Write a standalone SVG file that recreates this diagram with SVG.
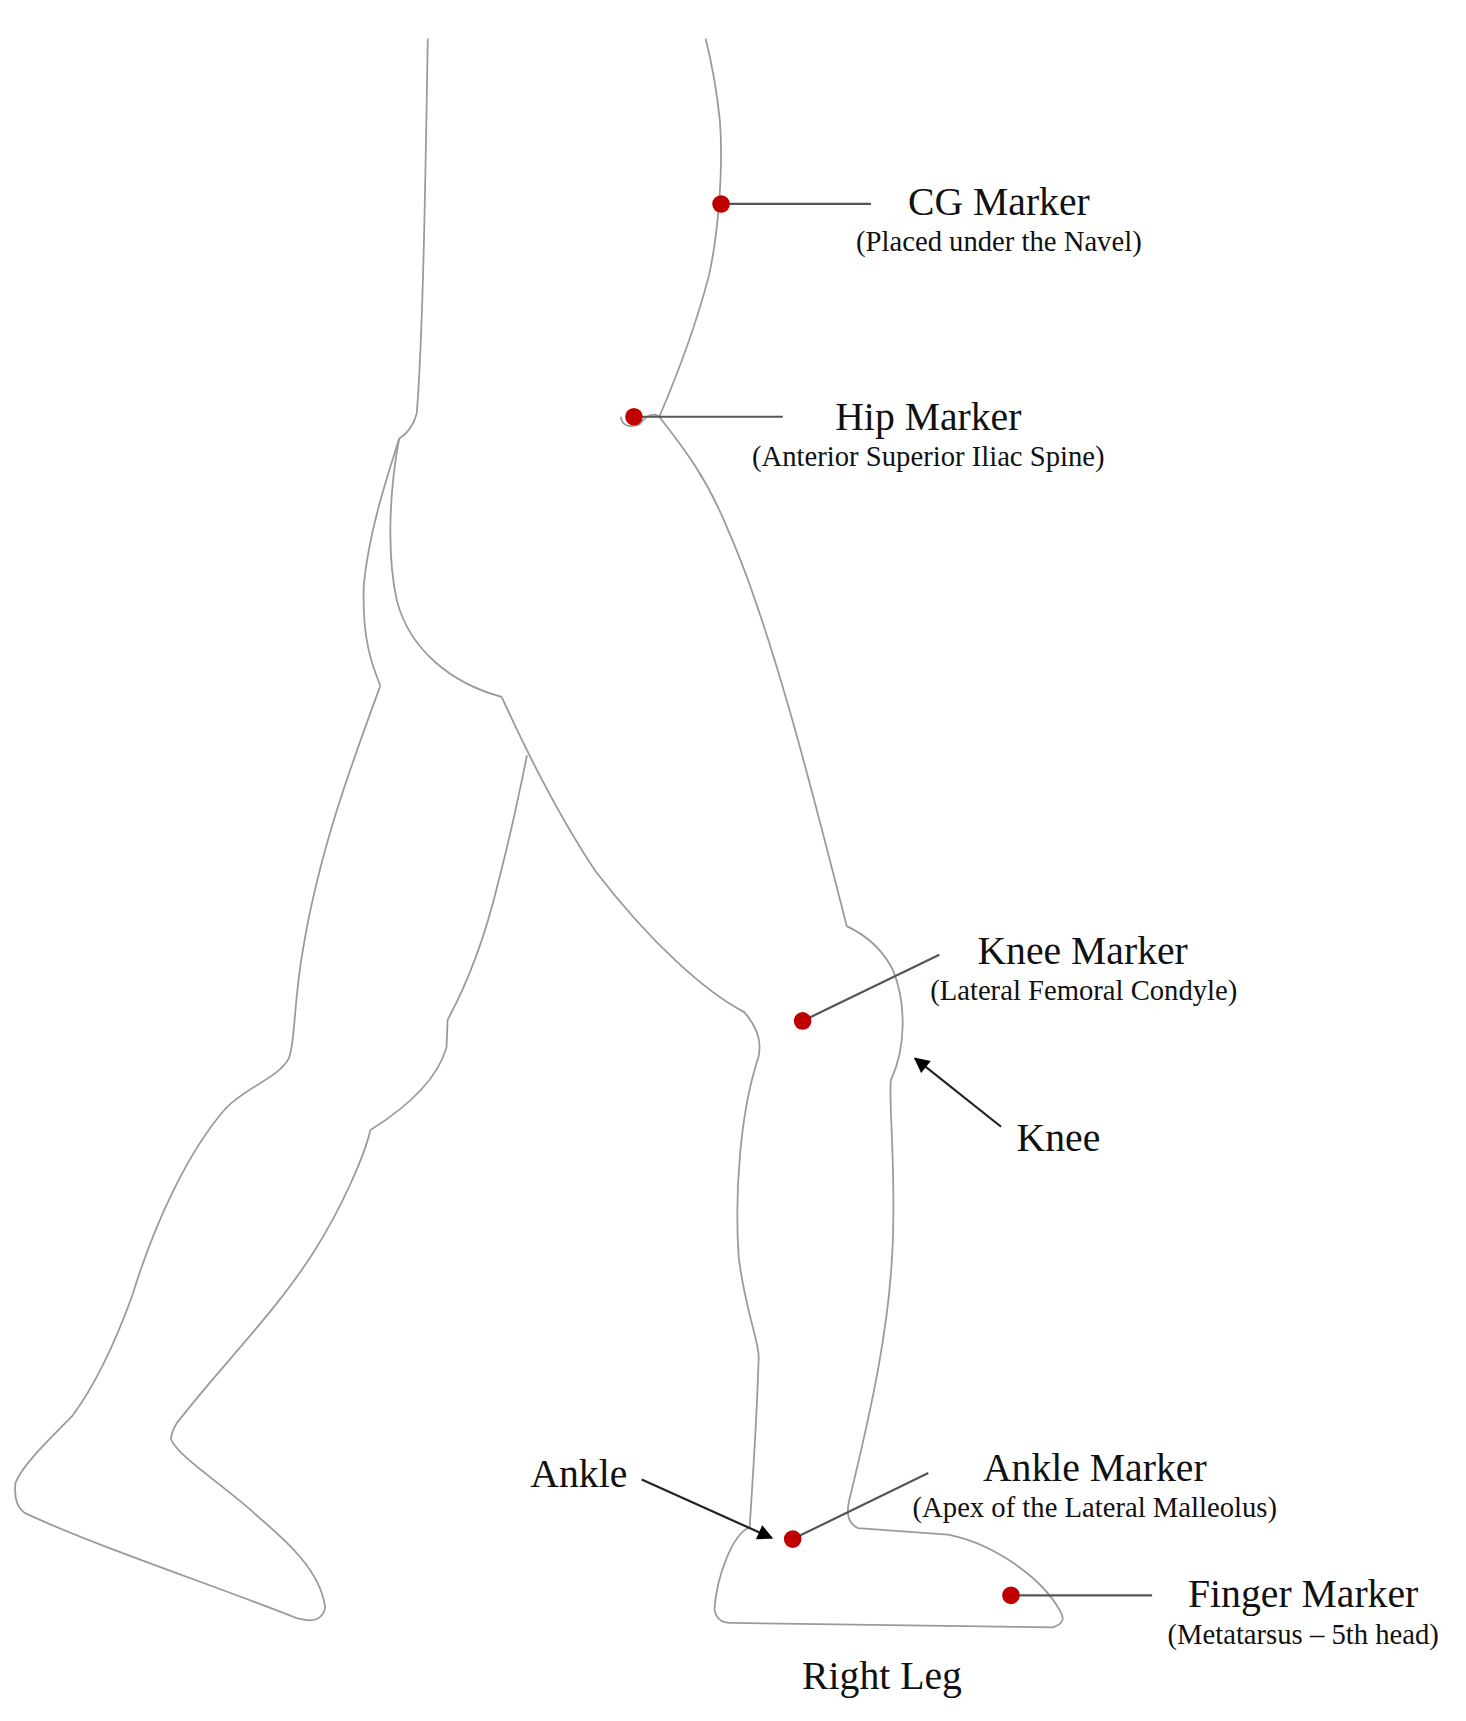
<svg xmlns="http://www.w3.org/2000/svg" width="1466" height="1721" viewBox="0 0 1466 1721">
<style>
.o{fill:none;stroke:#9a9a9a;stroke-width:1.6;stroke-linejoin:round}
.l{stroke:#555;stroke-width:2;fill:none}
.a{stroke:#222;stroke-width:2;fill:none}
.m{fill:#c00000}
.t{font-family:"Liberation Serif",serif;font-size:36px;fill:#111;text-anchor:middle}
.s{font-family:"Liberation Serif",serif;font-size:26px;fill:#111;text-anchor:middle}
</style>
<defs><marker id="ah" viewBox="0 0 10 10" refX="9" refY="5" markerWidth="16" markerHeight="14" orient="auto" markerUnits="userSpaceOnUse"><path d="M0,0L10,5L0,10z" fill="#000"/></marker></defs>
<rect width="1466" height="1721" fill="#fff"/>
<g transform="scale(1.1025)">
<g id="body">
<path class="o" d="M388,35 C386,150 384,300 378,375 Q374,390 362,398 C352,430 335,480 330,530 C328,580 338,605 345,622"/>
<path class="o" d="M362,398 C354,440 350,500 360,545 C372,590 410,620 455,632 C470,665 500,730 540,790 C590,855 640,900 675,918 C690,935 692,950 686,965 C672,1010 666,1080 670,1140 C676,1190 690,1220 688,1235 C686,1300 682,1350 680,1385 C664,1392 650,1430 648,1460 C650,1470 656,1472 665,1472 L955,1476 Q968,1472 962,1462 C945,1430 900,1400 860,1392 L778,1386 Q766,1380 770,1362 C790,1280 808,1200 810,1120 C812,1050 806,1000 808,980 C822,950 822,910 810,880 C800,860 785,848 768,840 C740,730 700,570 660,480 C640,430 615,400 598,378 Q590,372 580,385 Q565,390 563,378"/>
<path class="o" d="M598,378 C610,350 630,300 643,250 C652,210 656,150 653,110 C650,80 645,55 640,35"/>
<path class="o" d="M345,622 C320,690 290,770 275,860 C266,910 268,945 262,960 C252,978 225,985 205,1005 C170,1045 140,1110 120,1175 C100,1230 80,1265 65,1285 C40,1310 20,1330 14,1345 Q12,1365 22,1372 C80,1400 200,1440 270,1468 Q292,1474 295,1458 C290,1420 250,1390 230,1372 C200,1345 160,1320 155,1305 Q156,1295 165,1285 C200,1240 250,1190 285,1135 C310,1095 330,1050 336,1025 C360,1010 395,985 405,950 L406,925 C425,890 440,850 452,800 C465,750 473,710 478,685"/>
</g>
<g id="connectors">
<line class="l" x1="654" y1="185" x2="790" y2="185"/>
<line class="l" x1="575" y1="378" x2="710" y2="378"/>
<line class="l" x1="728" y1="926" x2="852" y2="866"/>
<line class="l" x1="719" y1="1396" x2="842" y2="1336"/>
<line class="l" x1="917" y1="1447" x2="1045" y2="1447"/>
<line class="a" x1="908" y1="1022" x2="830" y2="960" marker-end="url(#ah)"/>
<line class="a" x1="582" y1="1342" x2="700" y2="1395" marker-end="url(#ah)"/>
</g>
<g id="cg"><circle class="m" cx="654" cy="185" r="8"/><text class="t" x="906" y="195">CG Marker</text><text class="s" x="906" y="228">(Placed under the Navel)</text></g>
<g id="hip"><circle class="m" cx="575" cy="378" r="8"/><text class="t" x="842" y="390">Hip Marker</text><text class="s" x="842" y="423">(Anterior Superior Iliac Spine)</text></g>
<g id="knee-marker"><circle class="m" cx="728" cy="926" r="8"/><text class="t" x="982" y="874">Knee Marker</text><text class="s" x="983" y="907">(Lateral Femoral Condyle)</text></g>
<g id="knee"><text class="t" x="960" y="1044">Knee</text></g>
<g id="ankle-marker"><circle class="m" cx="719" cy="1396" r="8"/><text class="t" x="993" y="1343">Ankle Marker</text><text class="s" x="993" y="1376">(Apex of the Lateral Malleolus)</text></g>
<g id="ankle"><text class="t" x="525" y="1349">Ankle</text></g>
<g id="finger"><circle class="m" cx="917" cy="1447" r="8"/><text class="t" x="1182" y="1458">Finger Marker</text><text class="s" x="1182" y="1491">(Metatarsus – 5th head)</text></g>
<g id="title"><text class="t" x="800" y="1532">Right Leg</text></g>
</g>
</svg>
